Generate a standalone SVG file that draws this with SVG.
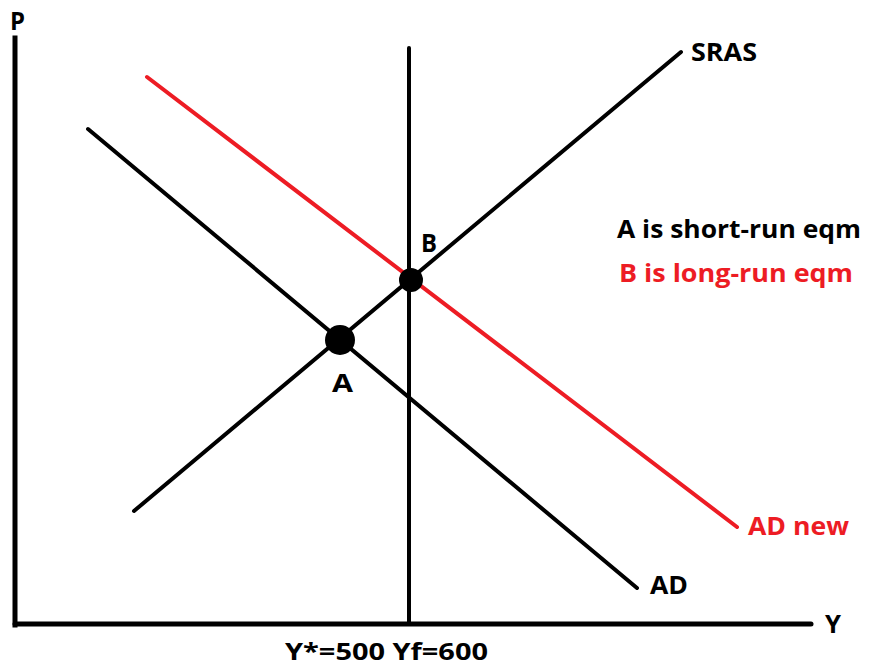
<svg xmlns="http://www.w3.org/2000/svg" width="869" height="666" viewBox="0 0 869 666">
<style>
.k{stroke:#000;stroke-width:4;stroke-linecap:round;fill:none}
.r{stroke:#ed1c24;stroke-width:4;stroke-linecap:round;fill:none}
text{font-family:"Open Sans","Noto Sans",sans-serif;font-weight:bold;font-size:25px;fill:#000}
.red{fill:#ed1c24}
</style>
<rect width="869" height="666" fill="#fff"/>
<g id="connectors">
<line class="k" x1="15" y1="38" x2="15" y2="625" style="stroke-width:5;stroke-linecap:square"/>
<line class="k" x1="15" y1="624" x2="811" y2="624" style="stroke-width:5"/>
<line class="k" x1="409" y1="48" x2="409" y2="624"/>
<line class="k" x1="134" y1="511" x2="681" y2="52"/>
<line class="k" x1="88" y1="129" x2="637" y2="588"/>
<line class="r" x1="147" y1="77" x2="737" y2="527"/>
</g>
<g id="pointA"><circle cx="340" cy="340" r="15" fill="#000"/><text x="332" y="392" textLength="21" lengthAdjust="spacingAndGlyphs">A</text></g>
<g id="pointB"><circle cx="411" cy="280" r="12" fill="#000"/><text x="421" y="252" textLength="16" lengthAdjust="spacingAndGlyphs">B</text></g>
<g id="labels">
<text x="10" y="30" textLength="15" lengthAdjust="spacingAndGlyphs">P</text>
<text x="825" y="633" textLength="16" lengthAdjust="spacingAndGlyphs">Y</text>
<text x="691" y="61" textLength="66" lengthAdjust="spacingAndGlyphs">SRAS</text>
<text x="650" y="594" textLength="38" lengthAdjust="spacingAndGlyphs">AD</text>
<text class="red" x="748" y="535" textLength="101" lengthAdjust="spacingAndGlyphs">AD new</text>
<text x="617" y="238" textLength="244" lengthAdjust="spacingAndGlyphs">A is short-run eqm</text>
<text class="red" x="619" y="282" textLength="234" lengthAdjust="spacingAndGlyphs">B is long-run eqm</text>
<text x="285" y="660" style="font-size:23px" textLength="203" lengthAdjust="spacingAndGlyphs">Y*=500 Yf=600</text>
</g>
</svg>
